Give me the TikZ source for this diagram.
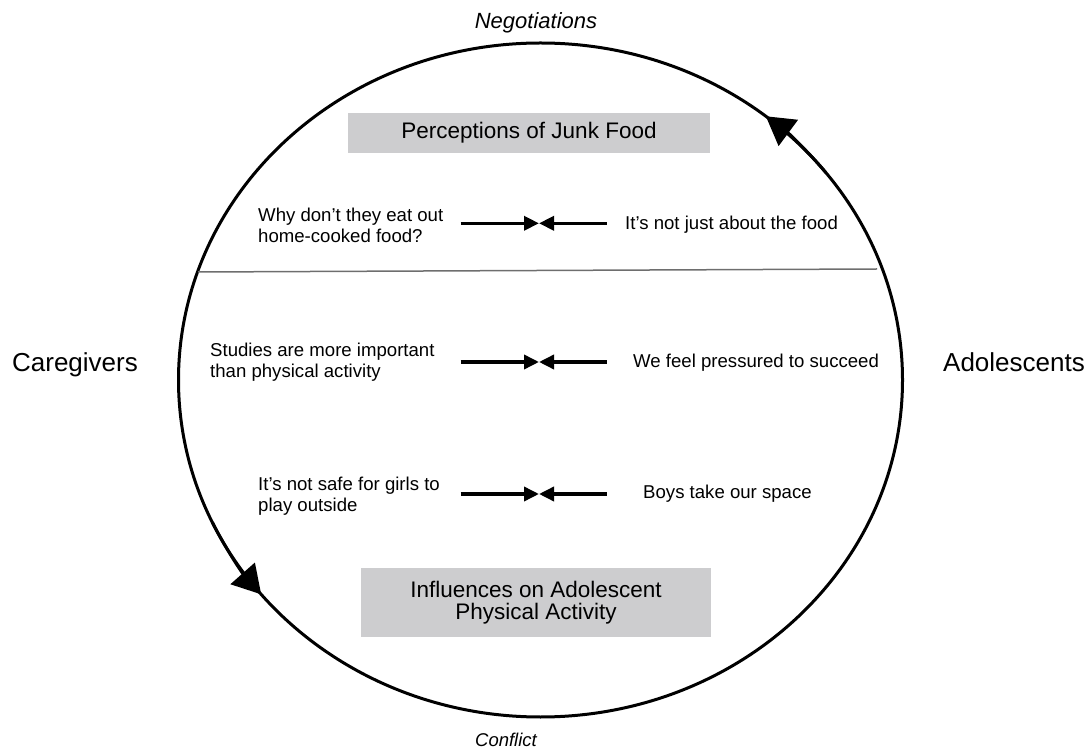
\documentclass[tikz,border=0pt]{standalone}
\usepackage{fontspec}
\setmainfont{Liberation Sans}
\usetikzlibrary{arrows.meta,calc}
\definecolor{boxgray}{RGB}{205,205,207}
\definecolor{divgray}{RGB}{110,110,110}
\begin{document}
\begin{tikzpicture}[x=1pt,y=1pt,
  small/.style={font=\fontsize{18.6}{21}\selectfont, inner sep=0pt, align=left},
  big/.style={font=\fontsize{26}{30}\selectfont, inner sep=0pt},
  titlebox/.style={fill=boxgray, inner sep=0pt, align=center, font=\fontsize{22.5}{22}\selectfont},
  pair/.style={line width=3.5pt, -{Triangle[length=15pt,width=14pt]}},
  cyc/.style={line width=3pt},
  cyctip/.style={line width=3pt, -{Triangle[length=28pt,width=32pt]}},
]
\useasboundingbox (0,0) rectangle (1092,750);
\coordinate (C) at (540.5,370);
\draw[cyc] (C) ellipse [x radius=362, y radius=337];
\draw[cyctip] ($(C)+(38:362 and 337)$) arc[start angle=38,end angle=51.5,x radius=362,y radius=337];
\draw[cyctip] ($(C)+(205:362 and 337)$) arc[start angle=205,end angle=219.5,x radius=362,y radius=337];

% divider
\coordinate (dl) at (198,478);
\coordinate (dr) at (877,481);
\draw[divgray, line width=1.5pt] (dl) -- (dr);

% boxes
\node[titlebox, minimum width=362pt, minimum height=40pt] (jf) at (529,617.3) {Perceptions of Junk Food};
\node[titlebox, minimum width=350pt, minimum height=69pt] (pa) at (536,147.5) {Influences on Adolescent\\Physical Activity};

% side labels
\node[big, anchor=base] (care) at (75,378) {Caregivers};
\node[big, anchor=base] (adol) at (1014,378) {Adolescents};
\node[font=\itshape\fontsize{22}{26}\selectfont, anchor=base, inner sep=0pt] (neg) at (536,721.7) {Negotiations};
\node[font=\itshape\fontsize{18.5}{22}\selectfont, anchor=base, inner sep=0pt] (con) at (506,4) {Conflict};

% row texts
\node[small, anchor=west] (c1) at (258,524.5) {Why don’t they eat out\\home-cooked food?};
\node[small, anchor=base west] (d1) at (625,520.7) {It’s not just about the food};
\node[small, anchor=west] (c2) at (210,388) {Studies are more important\\than physical activity};
\node[small, anchor=base west] (d2) at (633,382) {We feel pressured to succeed};
\node[small, anchor=west] (c3) at (258,254) {It’s not safe for girls to\\play outside};
\node[small, anchor=base west] (d3) at (643,251) {Boys take our space};

% paired arrows
\coordinate (a1l) at (460.7,526.7); \coordinate (a1m) at (539,526.7); \coordinate (a1r) at (606.7,526.7);
\coordinate (a2l) at (460.7,388); \coordinate (a2m) at (539,388); \coordinate (a2r) at (606.7,388);
\coordinate (a3l) at (460.7,256); \coordinate (a3m) at (539,256); \coordinate (a3r) at (606.7,256);
\draw[pair] (a1l) -- (a1m); \draw[pair] (a1r) -- (a1m);
\draw[pair] (a2l) -- (a2m); \draw[pair] (a2r) -- (a2m);
\draw[pair] (a3l) -- (a3m); \draw[pair] (a3r) -- (a3m);
\end{tikzpicture}
\end{document}
